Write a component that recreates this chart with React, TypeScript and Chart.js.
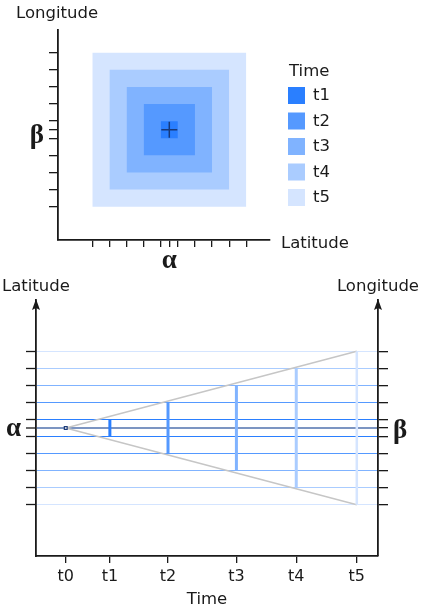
import React, { useEffect, useRef } from 'react';
import { Chart, registerables } from 'chart.js';

Chart.register(...registerables);

// ---------------- data ----------------
const timeNames = ['t1', 't2', 't3', 't4', 't5'];
// half side of the spatial window (in tick units) at each time step
const halfSizes = [0.5, 1.5, 2.5, 3.5, 4.5];
const timeColors = ['#2a7fff', '#5599ff', '#80b3ff', '#aaccff', '#d5e5ff'];
const timeAxisLabels = ['t0', 't1', 't2', 't3', 't4', 't5'];
const timeValues = [0.87, 2.16, 3.86, 5.86, 7.61, 9.38];
const originLat = 0; // α
const originLon = 0; // β
const latTickLabel = 'α';
const lonTickLabel = 'β';
const barWidths = [3, 3, 3, 3, 2.5];
const centerLineColor = '#7c95c2';
const wedgeColor = '#c6c6c6';
const markerColor = '#1d3b78';

const spatialTicks = [...halfSizes.map((h) => -h).reverse(), 0, ...halfSizes];

// ---------------- styles ----------------
const SANS = '"DejaVu Sans", sans-serif';
const SERIF = '"Liberation Serif", "DejaVu Serif", serif';
const INK = '#1a1a1a';

const greekFont = { family: SERIF, size: 27, weight: 'bold' as const };

function colorForOffset(v: number): string {
  const i = halfSizes.indexOf(Math.abs(v));
  return i >= 0 ? timeColors[i] : centerLineColor;
}

const textPlugin = (items: { text: string; x: number; y: number; align?: CanvasTextAlign }[]) => ({
  id: 'freeText',
  afterDraw(chart: any) {
    const ctx = chart.ctx;
    ctx.save();
    ctx.font = `16.5px ${SANS}`;
    ctx.fillStyle = INK;
    ctx.textBaseline = 'alphabetic';
    for (const it of items) {
      ctx.textAlign = it.align || 'left';
      ctx.fillText(it.text, it.x, it.y);
    }
    ctx.restore();
  },
});

const legendPlugin = {
  id: 'timeLegend',
  afterDraw(chart: any) {
    const ctx = chart.ctx;
    const x0 = chart.chartArea.right + 18;
    ctx.save();
    ctx.font = `16.5px ${SANS}`;
    ctx.fillStyle = INK;
    ctx.textBaseline = 'middle';
    ctx.textAlign = 'left';
    ctx.fillText('Time', x0 + 1, 72);
    chart.data.datasets.forEach((ds: any, i: number) => {
      if (i >= timeNames.length) return;
      const y = 87 + i * 25.5;
      ctx.fillStyle = ds.backgroundColor;
      ctx.fillRect(x0, y, 17, 17);
      ctx.fillStyle = INK;
      ctx.fillText(ds.label, x0 + 25, y + 9);
    });
    ctx.restore();
  },
};

const arrowPlugin = {
  id: 'axisArrows',
  afterDraw(chart: any) {
    const ctx = chart.ctx;
    const { left, right, top } = chart.chartArea;
    ctx.save();
    ctx.fillStyle = INK;
    for (const x of [left, right]) {
      ctx.beginPath();
      ctx.moveTo(x, top - 1);
      ctx.lineTo(x - 4, top + 10);
      ctx.lineTo(x, top + 8);
      ctx.lineTo(x + 4, top + 10);
      ctx.closePath();
      ctx.fill();
    }
    ctx.restore();
  },
};

function TopChart() {
  const ref = useRef<HTMLCanvasElement>(null);
  useEffect(() => {
    const squares = timeNames.map((name, i) => ({
      type: 'line' as const,
      label: name,
      data: [
        { x: originLat - halfSizes[i], y: originLon + halfSizes[i] },
        { x: originLat + halfSizes[i], y: originLon + halfSizes[i] },
      ],
      fill: { value: originLon - halfSizes[i] },
      backgroundColor: timeColors[i],
      borderColor: 'rgba(0,0,0,0)',
      borderWidth: 0,
      pointRadius: 0,
      order: i + 1,
    }));
    const chart = new Chart(ref.current!, {
      type: 'line',
      data: {
        datasets: [
          ...squares,
          {
            type: 'line',
            label: 't0',
            data: [{ x: originLat, y: originLon }],
            showLine: false,
            pointStyle: 'cross',
            pointRadius: 8,
            pointBorderWidth: 1.5,
            pointBorderColor: 'rgba(20,45,100,0.85)',
            order: 0,
          } as any,
        ],
      },
      options: {
        animation: false,
        responsive: false,
        layout: { padding: { top: 30, right: 154, left: 0, bottom: 0 } },
        plugins: { legend: { display: false }, tooltip: { enabled: false } },
        scales: {
          x: {
            type: 'linear',
            min: -6.505,
            max: 5.885,
            afterFit: (s: any) => { s.height = 30; },
            afterBuildTicks: (s: any) => { s.ticks = spatialTicks.map((v) => ({ value: v })); },
            ticks: {
              autoSkip: false,
              maxRotation: 0,
              minRotation: 0,
              padding: -2,
              color: INK,
              font: greekFont,
              callback: (v: any) => (v === originLat ? latTickLabel : ''),
            },
            grid: { drawOnChartArea: false, drawTicks: true, tickLength: 7, color: INK, lineWidth: 1.3 },
            border: { display: true, color: INK, width: 1.8 },
          },
          y: {
            type: 'linear',
            min: -6.45,
            max: 5.83,
            afterFit: (s: any) => { s.width = 58; },
            afterBuildTicks: (s: any) => { s.ticks = spatialTicks.map((v) => ({ value: v })); },
            ticks: {
              autoSkip: false,
              padding: 5,
              labelOffset: 6,
              color: INK,
              font: greekFont,
              callback: (v: any) => (v === originLon ? lonTickLabel : ''),
            },
            grid: { drawOnChartArea: false, drawTicks: true, tickLength: 9, color: INK, lineWidth: 1.3 },
            border: { display: true, color: INK, width: 1.8 },
          },
        },
      } as any,
      plugins: [
        legendPlugin,
        textPlugin([
          { text: 'Longitude', x: 16, y: 18 },
          { text: 'Latitude', x: 281, y: 247.5 },
        ]),
      ],
    });
    return () => chart.destroy();
  }, []);
  return (
    <canvas
      ref={ref}
      width={424}
      height={270}
      style={{ position: 'absolute', left: 0, top: 0, width: 424, height: 270, display: 'block' }}
    />
  );
}

function BottomChart() {
  const ref = useRef<HTMLCanvasElement>(null);
  useEffect(() => {
    const bars = timeNames.map((name, i) => ({
      type: 'line' as const,
      label: name,
      data: [
        { x: timeValues[i + 1], y: originLon - halfSizes[i] },
        { x: timeValues[i + 1], y: originLon + halfSizes[i] },
      ],
      borderColor: timeColors[i],
      borderWidth: barWidths[i],
      borderCapStyle: 'butt',
      pointRadius: 0,
      fill: false,
      order: 2,
    }));
    const last = halfSizes.length - 1;
    const wedge = [1, -1].map((sgn) => ({
      type: 'line' as const,
      label: 'spread',
      data: [
        { x: timeValues[0], y: originLon },
        { x: timeValues[timeValues.length - 1], y: originLon + sgn * halfSizes[last] },
      ],
      borderColor: wedgeColor,
      borderWidth: 1.4,
      pointRadius: 0,
      fill: false,
      order: 3,
    }));
    const chart = new Chart(ref.current!, {
      type: 'line',
      data: {
        datasets: [
          ...bars,
          ...wedge,
          {
            type: 'line',
            label: 't0',
            data: [{ x: timeValues[0], y: originLon }],
            showLine: false,
            pointStyle: 'rect',
            pointRadius: 2,
            pointBorderWidth: 1.2,
            pointBorderColor: markerColor,
            pointBackgroundColor: '#ffffff',
            order: 0,
          } as any,
        ],
      },
      options: {
        animation: false,
        responsive: false,
        layout: { padding: { top: 30, right: 0, left: 0, bottom: 0 } },
        plugins: { legend: { display: false }, tooltip: { enabled: false } },
        scales: {
          x: {
            type: 'linear',
            min: 0,
            max: 10,
            afterFit: (s: any) => { s.height = 58; },
            afterBuildTicks: (s: any) => { s.ticks = timeValues.map((v) => ({ value: v })); },
            ticks: {
              autoSkip: false,
              maxRotation: 0,
              minRotation: 0,
              padding: 4,
              color: INK,
              font: { family: SANS, size: 16 },
              callback: (_v: any, i: number) => timeAxisLabels[i],
            },
            grid: { drawOnChartArea: false, drawTicks: true, tickLength: 7, color: INK, lineWidth: 1.3 },
            border: { display: true, color: INK, width: 1.8 },
            title: {
              display: true,
              text: 'Time',
              color: INK,
              font: { family: SANS, size: 16.5 },
              padding: { top: 0, bottom: 4 },
            },
          },
          y: {
            type: 'linear',
            position: 'left',
            min: -7.5,
            max: 7.5,
            afterFit: (s: any) => { s.width = 36; },
            afterBuildTicks: (s: any) => { s.ticks = spatialTicks.map((v) => ({ value: v })); },
            ticks: {
              autoSkip: false,
              padding: 5,
              labelOffset: 1,
              color: INK,
              font: greekFont,
              callback: (v: any) => (v === originLat ? latTickLabel : ''),
            },
            grid: {
              drawOnChartArea: true,
              drawTicks: true,
              tickLength: 10,
              color: (c: any) => colorForOffset(c.tick ? c.tick.value : 0),
              lineWidth: (c: any) => (c.tick && c.tick.value === 0 ? 2 : 1),
              tickColor: INK,
              tickWidth: 1.3,
            },
            border: { display: true, color: INK, width: 1.8 },
          },
          y1: {
            type: 'linear',
            position: 'right',
            min: -7.5,
            max: 7.5,
            afterFit: (s: any) => { s.width = 46; },
            afterBuildTicks: (s: any) => { s.ticks = spatialTicks.map((v) => ({ value: v })); },
            ticks: {
              autoSkip: false,
              padding: 5,
              labelOffset: 3,
              color: INK,
              font: greekFont,
              callback: (v: any) => (v === originLon ? lonTickLabel : ''),
            },
            grid: { drawOnChartArea: false, drawTicks: true, tickLength: 10, color: INK, lineWidth: 1.3 },
            border: { display: true, color: INK, width: 1.8 },
          },
        },
      } as any,
      plugins: [
        arrowPlugin,
        textPlugin([
          { text: 'Latitude', x: 2, y: 21 },
          { text: 'Longitude', x: 419, y: 21, align: 'right' },
        ]),
      ],
    });
    return () => chart.destroy();
  }, []);
  return (
    <canvas
      ref={ref}
      width={424}
      height={344}
      style={{ position: 'absolute', left: 0, top: 270, width: 424, height: 344, display: 'block' }}
    />
  );
}

export default function App() {
  return (
    <div style={{ position: 'absolute', left: 0, top: 0, width: 424, height: 614, background: '#ffffff' }}>
      <TopChart />
      <BottomChart />
    </div>
  );
}
